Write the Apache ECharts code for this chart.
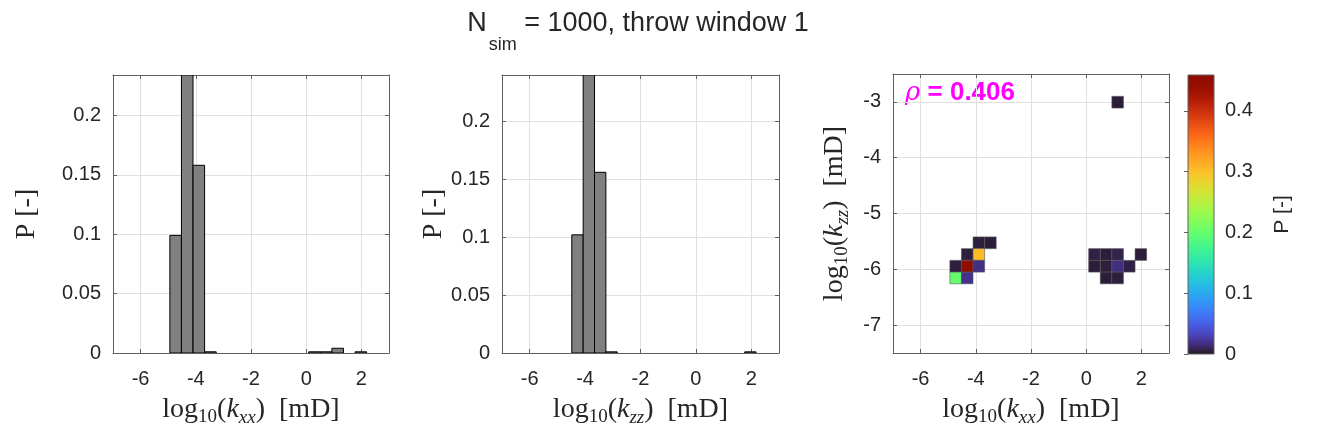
<!DOCTYPE html>
<html>
<head>
<meta charset="utf-8">
<script src="https://cdn.jsdelivr.net/npm/echarts@6/dist/echarts.min.js"></script>
<style>
html, body { margin: 0; padding: 0; background: #fff; }
#chart { width: 1329px; height: 443px; }
</style>
</head>
<body>
<div id="chart"></div>
<script>
// histogram of log10(kxx): left bin edges and probabilities
var kxxLeft = [-4.94, -4.52, -4.10, -3.68, 0.09, 0.51, 0.93, 1.77];
var kxxP = [0.099, 0.234, 0.158, 0.001, 0.001, 0.001, 0.004, 0.001];
var kxxWidth = 0.419;

// histogram of log10(kzz)
var kzzLeft = [-4.48, -4.07, -3.66, -3.25, 1.76];
var kzzP = [0.102, 0.240, 0.156, 0.001, 0.001];
var kzzWidth = 0.41;

// 2d histogram cells (centres) and probabilities
var heatX = [-3.89, -3.47, -4.31, -3.89, -4.73, -4.31, -3.89, -4.73, -4.31,
  0.30, 0.72, 1.14, 1.98, 0.30, 0.72, 1.14, 1.56, 0.72, 1.14, 1.14];
var heatY = [-5.525, -5.525, -5.735, -5.735, -5.945, -5.945, -5.945, -6.155, -6.155,
  -5.735, -5.735, -5.735, -5.735, -5.945, -5.945, -5.945, -5.945, -6.155, -6.155, -3.005];
var heatP = [0.006, 0.005, 0.006, 0.303, 0.006, 0.459, 0.018, 0.200, 0.020,
  0.007, 0.005, 0.008, 0.005, 0.005, 0.006, 0.018, 0.007, 0.005, 0.006, 0.005];
var heatDx = 0.419, heatDy = 0.21;

var xTicks = [-6, -4, -2, 0, 2];
var pTicks = [0, 0.05, 0.1, 0.15, 0.2];
var kzzHeatTicks = [-7, -6, -5, -4, -3];
var cbTicks = [0, 0.1, 0.2, 0.3, 0.4];
var pMax = 0.459;

// turbo colormap (polynomial approximation)
function turbo(t) {
  var r = 0.13572138 + t * (4.61539260 + t * (-42.66032258 + t * (132.13108234 + t * (-152.94239396 + t * 59.28637943))));
  var g = 0.09140261 + t * (2.19418839 + t * (4.84296658 + t * (-14.18503333 + t * (4.27729857 + t * 2.82956604))));
  var b = 0.10667330 + t * (12.64194608 + t * (-60.58204836 + t * (110.36276771 + t * (-89.90310912 + t * 27.34824973))));
  function c(v) { return Math.round(Math.max(0, Math.min(1, v)) * 255); }
  return 'rgb(' + c(r) + ',' + c(g) + ',' + c(b) + ')';
}
var turboColors = [];
var turboStops = [];
for (var i = 0; i <= 32; i++) {
  turboColors.push(turbo(i / 32));
  turboStops.push({ offset: i / 32, color: turbo(i / 32) });
}

var axisColor = '#606060';
var ink = '#262626';
var rich = {
  t: { fontFamily: 'Liberation Serif', fontSize: 28, color: ink, lineHeight: 34, verticalAlign: 'middle' },
  i: { fontFamily: 'Liberation Serif', fontSize: 28, fontStyle: 'italic', color: ink, lineHeight: 34, verticalAlign: 'middle' },
  s: { fontFamily: 'Liberation Serif', fontSize: 19, color: ink, lineHeight: 34, verticalAlign: 'bottom' },
  si: { fontFamily: 'Liberation Serif', fontSize: 19, fontStyle: 'italic', color: ink, lineHeight: 34, verticalAlign: 'bottom' }
};

function mainAxis(dim, grid, min, max, ticks, name, gap) {
  return {
    type: 'value', gridIndex: grid, min: min, max: max,
    position: dim === 'x' ? 'bottom' : 'left',
    axisLine: { show: true, onZero: false, lineStyle: { color: axisColor, width: 1 } },
    axisTick: { show: true, inside: true, length: 4, customValues: ticks, lineStyle: { color: axisColor } },
    axisLabel: { customValues: ticks, margin: dim === 'x' ? 16 : 12, color: ink, fontSize: 20, fontFamily: 'Liberation Sans' },
    splitLine: { show: true, lineStyle: { color: '#e0e0e0', width: 1 } },
    name: name, nameLocation: 'middle', nameGap: gap, nameRotate: dim === 'y' ? 90 : 0,
    nameTextStyle: { rich: rich }
  };
}
function mirrorAxis(dim, grid, min, max, ticks) {
  return {
    type: 'value', gridIndex: grid, min: min, max: max,
    position: dim === 'x' ? 'top' : 'right',
    axisLine: { show: true, onZero: false, lineStyle: { color: axisColor, width: 1 } },
    axisTick: { show: true, inside: true, length: 4, customValues: ticks, lineStyle: { color: axisColor } },
    axisLabel: { show: false },
    splitLine: { show: false }
  };
}

function barItem(width) {
  return function (params, api) {
    var x0 = api.value(0), p = api.value(1);
    var a = api.coord([x0, p]);
    var b = api.coord([x0 + width, 0]);
    return {
      type: 'rect',
      shape: { x: a[0], y: a[1], width: b[0] - a[0], height: b[1] - a[1] },
      style: { fill: '#808080', stroke: '#000', lineWidth: 1 }
    };
  };
}

var kxxName = '{t|log}{s|10}{t|(}{i|k}{si|xx}{t|)  [mD]}';
var kzzName = '{t|log}{s|10}{t|(}{i|k}{si|zz}{t|)  [mD]}';
var pName = '{t|P [-]}';

var chart = echarts.init(document.getElementById('chart'));
chart.setOption({
  backgroundColor: '#fff',
  animation: false,
  grid: [
    { left: 113, top: 75, width: 276, height: 278 },
    { left: 502, top: 75, width: 277, height: 278 },
    { left: 893, top: 74, width: 276, height: 279 },
    { left: 1188, top: 75, width: 26, height: 279 }
  ],
  xAxis: [
    mainAxis('x', 0, -7, 3, xTicks, kxxName, 40),
    mirrorAxis('x', 0, -7, 3, xTicks),
    mainAxis('x', 1, -7, 3, xTicks, kzzName, 40),
    mirrorAxis('x', 1, -7, 3, xTicks),
    mainAxis('x', 2, -7, 3, xTicks, kxxName, 40),
    mirrorAxis('x', 2, -7, 3, xTicks),
    { type: 'value', gridIndex: 3, min: 0, max: 1, show: false }
  ],
  yAxis: [
    mainAxis('y', 0, 0, 0.234, pTicks, pName, 69),
    mirrorAxis('y', 0, 0, 0.234, pTicks),
    mainAxis('y', 1, 0, 0.24, pTicks, pName, 42),
    mirrorAxis('y', 1, 0, 0.24, pTicks),
    mainAxis('y', 2, -7.5, -2.5, kzzHeatTicks, kzzName, 41),
    mirrorAxis('y', 2, -7.5, -2.5, kzzHeatTicks),
    {
      type: 'value', gridIndex: 3, min: 0, max: pMax, position: 'right',
      axisLine: { show: false },
      axisTick: { show: true, inside: true, length: 4, customValues: cbTicks, lineStyle: { color: axisColor } },
      axisLabel: { customValues: cbTicks, margin: 11, color: ink, fontSize: 20, fontFamily: 'Liberation Sans' },
      splitLine: { show: false },
      name: 'P [-]', nameLocation: 'middle', nameGap: 58, nameRotate: 90,
      nameTextStyle: { color: ink, fontSize: 21, fontFamily: 'Liberation Sans' }
    }
  ],
  visualMap: {
    type: 'continuous', show: false, seriesIndex: 2, dimension: 2,
    min: 0, max: pMax, inRange: { color: turboColors }
  },
  series: [
    {
      type: 'custom', xAxisIndex: 0, yAxisIndex: 0, clip: true,
      data: kxxLeft.map(function (l, i) { return [l, kxxP[i]]; }),
      renderItem: barItem(kxxWidth)
    },
    {
      type: 'custom', xAxisIndex: 2, yAxisIndex: 2, clip: true,
      data: kzzLeft.map(function (l, i) { return [l, kzzP[i]]; }),
      renderItem: barItem(kzzWidth)
    },
    {
      type: 'custom', xAxisIndex: 4, yAxisIndex: 4, clip: true,
      data: heatX.map(function (x, i) { return [x, heatY[i], heatP[i]]; }),
      renderItem: function (params, api) {
        var x = api.value(0), y = api.value(1);
        var a = api.coord([x - heatDx / 2, y + heatDy / 2]);
        var b = api.coord([x + heatDx / 2, y - heatDy / 2]);
        return {
          type: 'rect',
          shape: { x: a[0], y: a[1], width: b[0] - a[0], height: b[1] - a[1] },
          style: { fill: api.visual('color'), stroke: '#555', lineWidth: 0.6 }
        };
      }
    },
    {
      type: 'custom', xAxisIndex: 6, yAxisIndex: 6,
      data: [[0, 0]],
      renderItem: function (params, api) {
        var a = api.coord([0, pMax]);
        var b = api.coord([1, 0]);
        return {
          type: 'rect',
          shape: { x: a[0], y: a[1], width: b[0] - a[0], height: b[1] - a[1] },
          style: {
            fill: new echarts.graphic.LinearGradient(0, 1, 0, 0, turboStops),
            stroke: axisColor, lineWidth: 1
          }
        };
      }
    }
  ],
  graphic: [
    {
      type: 'text', x: 638, y: 10,
      style: {
        text: '{n|N}{s|sim}{n| = 1000, throw window 1}',
        align: 'center',
        rich: {
          n: { fontFamily: 'Liberation Sans', fontSize: 27, fill: ink, color: ink, lineHeight: 44, verticalAlign: 'top' },
          s: { fontFamily: 'Liberation Sans', fontSize: 18, fill: ink, color: ink, lineHeight: 44, verticalAlign: 'bottom', padding: [0, 0, 0, 2] }
        }
      }
    },
    {
      type: 'text', x: 905, y: 80,
      style: {
        text: '{r|ρ}{v| = 0.406}',
        rich: {
          r: { fontFamily: 'DejaVu Serif', fontStyle: 'italic', fontSize: 26, fill: '#ff00ff', color: '#ff00ff' },
          v: { fontFamily: 'Liberation Sans', fontWeight: 'bold', fontSize: 26, fill: '#ff00ff', color: '#ff00ff' }
        }
      }
    }
  ]
});
</script>
</body>
</html>
